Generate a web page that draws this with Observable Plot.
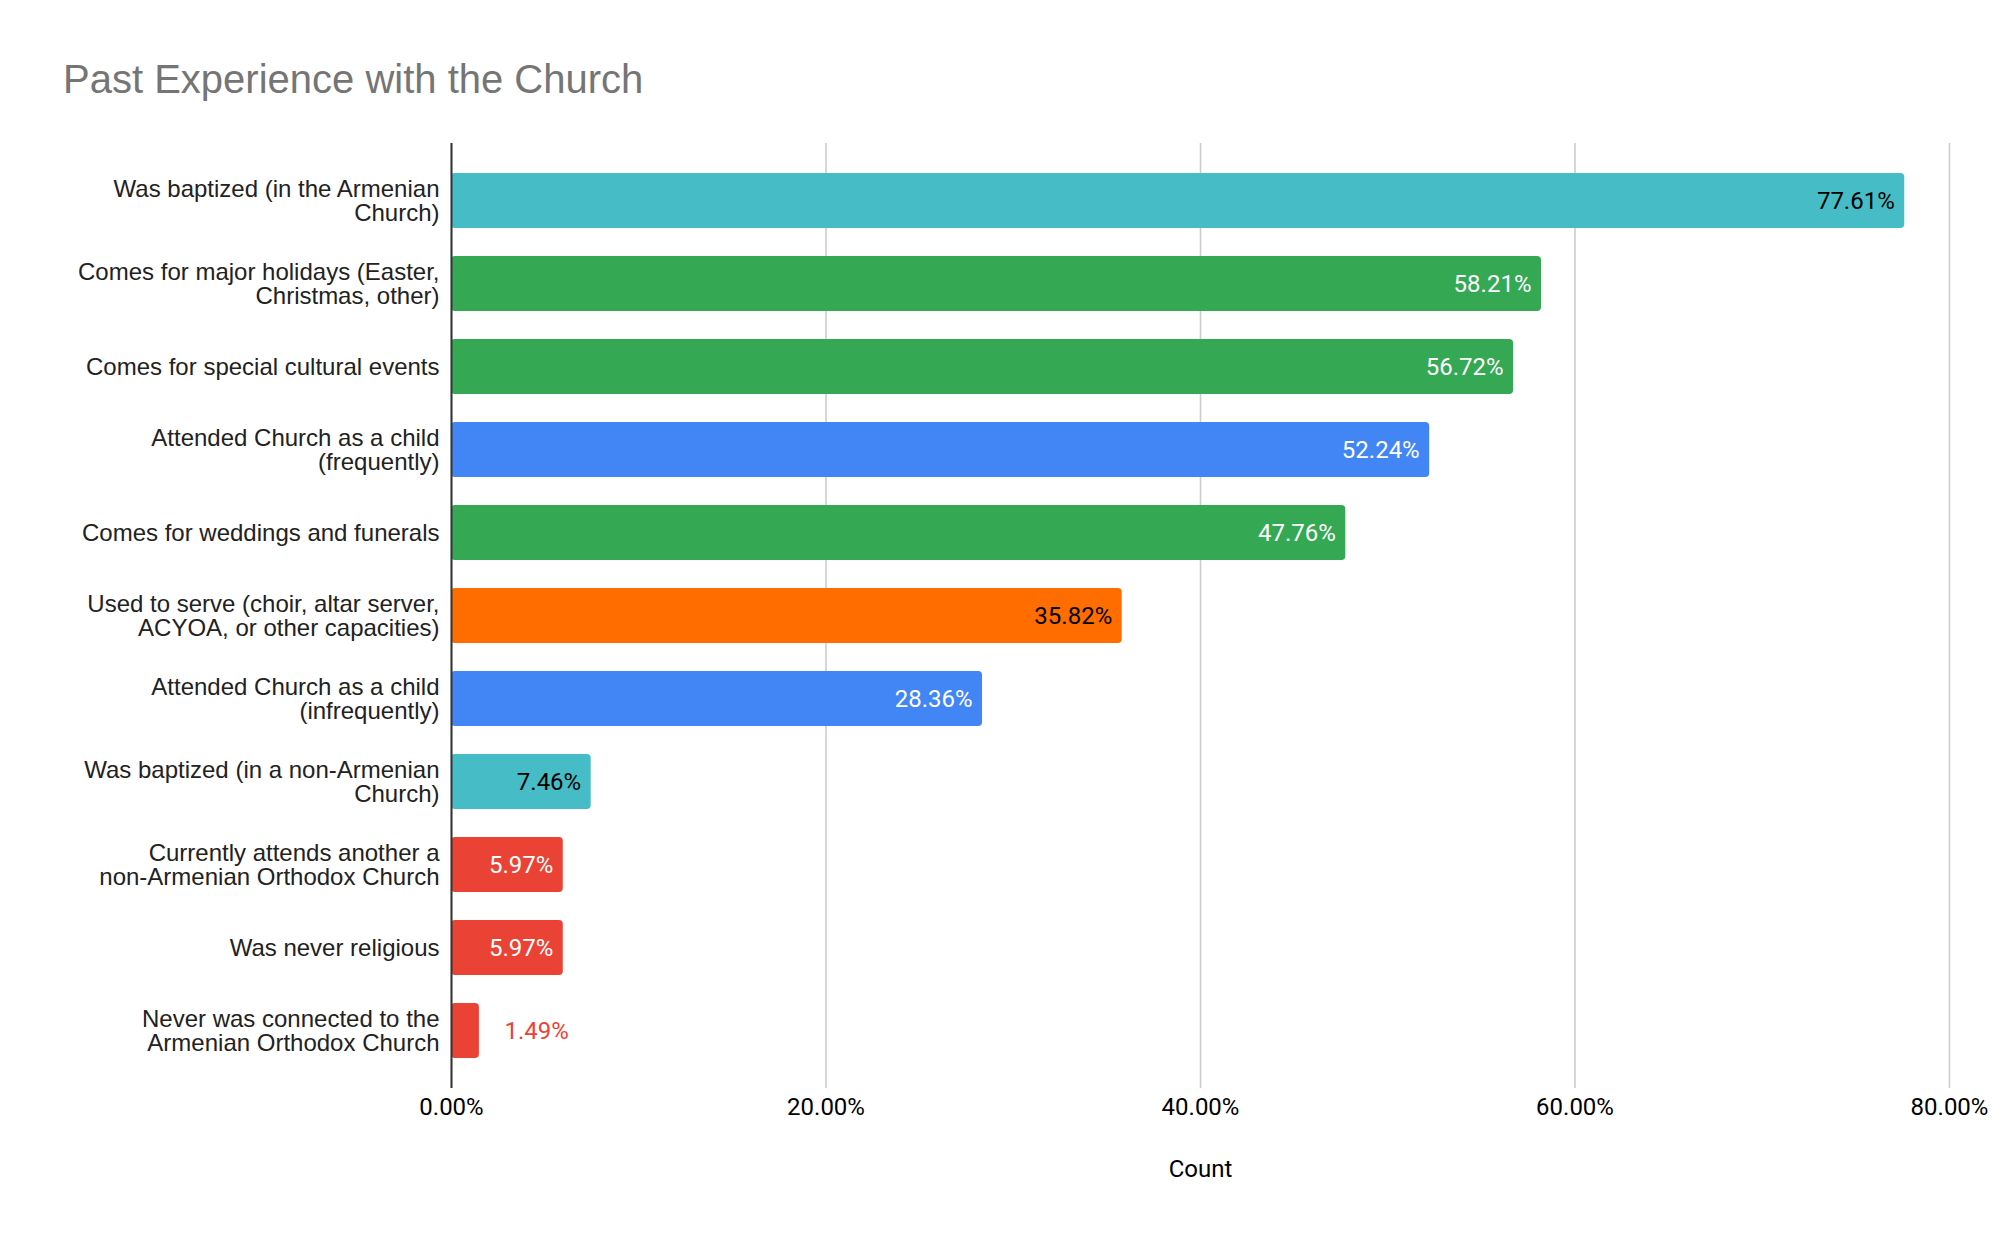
<!DOCTYPE html>
<html>
<head>
<meta charset="utf-8">
<script src="https://cdn.jsdelivr.net/npm/d3@7"></script>
<script src="https://cdn.jsdelivr.net/npm/@observablehq/plot@0.6"></script>
<style>
  html, body { margin: 0; padding: 0; background: #fff; }
  #wrap { position: relative; width: 2011px; height: 1241px; }
  #title { position: absolute; left: 63px; top: 59px; font-family: "Liberation Sans", Arial, sans-serif; font-size: 40px; line-height: 40px; color: #757575; white-space: nowrap; }
  svg { display: block; }
</style>
</head>
<body>
<div id="wrap">
  <div id="title">Past Experience with the Church</div>
  <div id="chart"></div>
</div>
<script>
const categories = [
  "Was baptized (in the Armenian\nChurch)",
  "Comes for major holidays (Easter,\nChristmas, other)",
  "Comes for special cultural events",
  "Attended Church as a child\n(frequently)",
  "Comes for weddings and funerals",
  "Used to serve (choir, altar server,\nACYOA, or other capacities)",
  "Attended Church as a child\n(infrequently)",
  "Was baptized (in a non-Armenian\nChurch)",
  "Currently attends another a\nnon-Armenian Orthodox Church",
  "Was never religious",
  "Never was connected to the\nArmenian Orthodox Church"
];
const values = [77.61, 58.21, 56.72, 52.24, 47.76, 35.82, 28.36, 7.46, 5.97, 5.97, 1.49];
const barColors = ["#46BDC6", "#34A853", "#34A853", "#4285F4", "#34A853", "#FF6D01", "#4285F4", "#46BDC6", "#EA4335", "#EA4335", "#EA4335"];
const labelColors = ["#000000", "#ffffff", "#ffffff", "#ffffff", "#ffffff", "#000000", "#ffffff", "#000000", "#ffffff", "#ffffff", "#EA4335"];
const xTicks = [0, 0.2, 0.4, 0.6, 0.8];

const data = categories.map((c, i) => ({
  cat: c, v: values[i] / 100, fill: barColors[i], lab: labelColors[i],
  inside: values[i] > 3, text: values[i].toFixed(2) + "%"
}));
const inside = data.filter(d => d.inside);
const outside = data.filter(d => !d.inside);
const fmt = d3.format(".2%");

const chart = Plot.plot({
  width: 2011,
  height: 1241,
  marginTop: 143,
  marginBottom: 153,
  marginLeft: 451,
  marginRight: 62,
  style: { fontFamily: "Roboto, 'Liberation Sans', sans-serif", fontSize: "24px", color: "#000", background: "#fff" },
  x: { domain: [0, 0.8] },
  y: { domain: categories, padding: 0.34 },
  marks: [
    Plot.gridX(xTicks, { stroke: "#cccccc", strokeOpacity: 1, strokeWidth: 1.6 }),
    Plot.barX(data, { x: "v", y: "cat", fill: "fill", rx: 4 }),
    Plot.ruleX([0], { stroke: "#333333", strokeWidth: 2 }),
    Plot.text(inside, { x: "v", y: "cat", text: "text", fill: "lab", textAnchor: "end", dx: -10, fontSize: 24 }),
    Plot.text(outside, { x: "v", y: "cat", text: "text", fill: "lab", textAnchor: "start", dx: 25, fontSize: 24 }),
    Plot.axisY({ tickSize: 0, tickPadding: 12, label: null, fontSize: 24, lineHeight: 1.01, fill: "#222", fontFamily: "'Liberation Sans', Arial, sans-serif" }),
    Plot.axisX({ ticks: xTicks, tickFormat: fmt, tickSize: 0, tickPadding: 9, label: null, fontSize: 24, fill: "#000" }),
    Plot.text(["Count"], { frameAnchor: "bottom", dy: 88, fontSize: 24, fill: "#000" })
  ]
});
document.getElementById("chart").appendChild(chart);
</script>
</body>
</html>
